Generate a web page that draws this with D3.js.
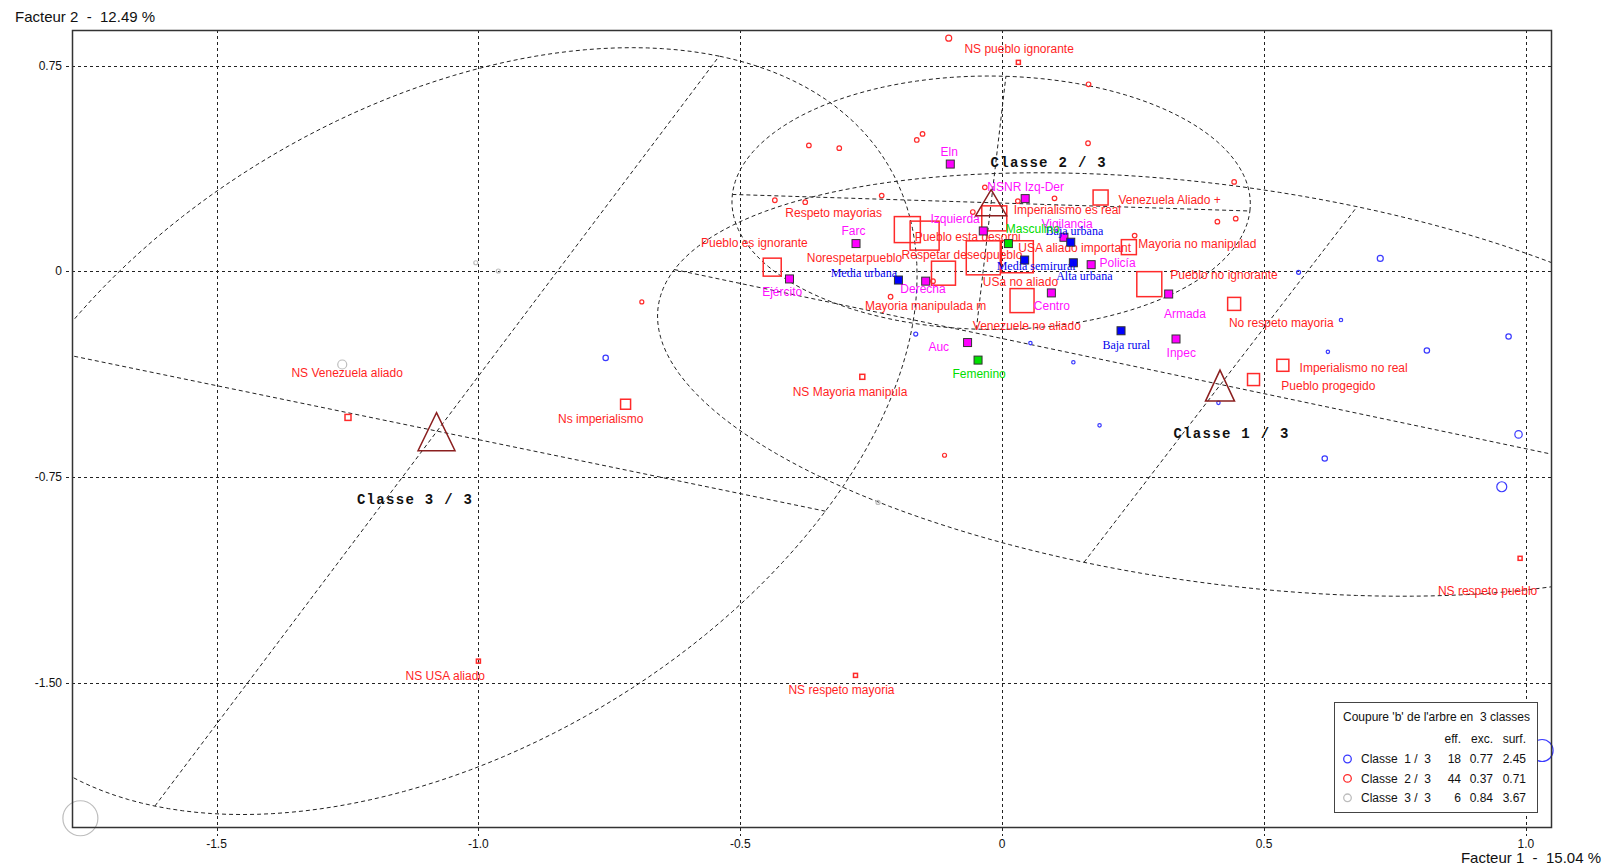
<!DOCTYPE html>
<html><head><meta charset="utf-8">
<script src="https://cdn.jsdelivr.net/npm/d3@7"></script>
<style>
body{margin:0;background:#fff}
text{white-space:pre}
</style>
</head><body><svg id="c" width="1609" height="867"></svg>
<script>
// ---------------- DATA (data units) ----------------
const xTicks = [-1.5, -1.0, -0.5, 0, 0.5, 1.0];
const xTickLabels = ["-1.5", "-1.0", "-0.5", "0", "0.5", "1.0"];
const yTicks = [0.75, 0, -0.75, -1.5];
const yTickLabels = ["0.75", "0", "-0.75", "-1.50"];
const xAxisTitle = "Facteur 1  -  15.04 %";
const yAxisTitle = "Facteur 2  -  12.49 %";

const classNames = ["Classe  1 /  3", "Classe  2 /  3", "Classe  3 /  3"];
const classMapNames = ["Classe 1 / 3", "Classe 2 / 3", "Classe 3 / 3"];
const classEff = ["18", "44", "6"];
const classExc = ["0.77", "0.37", "0.84"];
const classSurf = ["2.45", "0.71", "3.67"];
const legendTitle = "Coupure 'b' de l'arbre en  3 classes";
const legendHeads = ["eff.", "exc.", "surf."];

// class centres (x, y)
const classCenters = [[0.416, -0.417], [-0.021, 0.250], [-1.080, -0.585]];
// class ellipses: centre x, centre y, semi-axis 1, semi-axis 2, angle of axis 1 (deg)
const classEllipses = [
  [0.417, -0.413, 1.124, 0.699, -21.9],
  [-0.021, 0.250, 0.495, 0.462, -3.5],
  [-1.079, -0.583, 1.470, 0.797, 68.5]
];
const classLabelPos = [[0.327, -0.594], [-0.022, 0.396], [-1.232, -0.834]];

// individuals: x, y, weight
const class1Indiv = [
  [-0.757, -0.316, 5.4], [-0.165, -0.229, 4], [0.054, -0.262, 3.4], [0.136, -0.332, 3.4],
  [0.186, -0.562, 3.4], [0.413, -0.480, 3.4], [0.566, -0.004, 4], [0.722, 0.047, 6],
  [0.647, -0.178, 3.4], [0.622, -0.294, 3.4], [0.811, -0.289, 5.4], [0.967, -0.238, 5.4],
  [0.986, -0.595, 7.4], [0.616, -0.683, 5.4], [0.954, -0.786, 10], [1.031, -1.748, 22]
];
const class2Indiv = [
  [-0.102, 0.850, 6], [0.165, 0.682, 4.6], [-0.369, 0.459, 4.6], [-0.311, 0.449, 4.6],
  [-0.163, 0.479, 4.6], [-0.152, 0.501, 4.6], [0.164, 0.467, 4.6], [-0.434, 0.259, 4.6],
  [-0.376, 0.252, 4.6], [-0.230, 0.276, 4.6], [-0.056, 0.216, 4.6], [-0.033, 0.306, 4.6],
  [0.030, 0.256, 4.6], [0.100, 0.266, 4.6], [0.443, 0.326, 4.6], [0.411, 0.181, 4.6],
  [0.446, 0.192, 4.6], [0.253, 0.130, 4.6], [-0.688, -0.112, 4], [-0.213, -0.093, 4.6],
  [-0.132, -0.036, 4.6], [-0.110, -0.671, 4]
];
const class3Indiv = [
  [-1.260, -0.340, 9], [-1.005, 0.031, 4], [-0.962, 0.001, 4], [-0.237, -0.843, 4], [-1.760, -1.995, 35]
];

// active modalities (red squares): x, y, mass
const activeModalities = [
  [0.031, 0.762, 4], [-0.439, 0.015, 18], [-0.181, 0.152, 26], [-0.148, 0.130, 29],
  [-0.112, -0.007, 24], [-0.015, 0.193, 25], [0.188, 0.269, 15], [0.242, 0.088, 15],
  [-0.036, 0.049, 34], [0.029, 0.053, 32], [0.281, -0.047, 25], [0.038, -0.107, 24],
  [0.443, -0.119, 13], [0.536, -0.343, 12], [0.480, -0.395, 12], [-1.249, -0.533, 6],
  [-0.719, -0.485, 10], [-0.267, -0.385, 5], [-1.000, -1.422, 4], [-0.280, -1.474, 4],
  [0.989, -1.047, 4]
];
// their labels: text, x, y (start of text)
const activeLabels = [
  ["NS pueblo ignorante", -0.072, 0.811], ["Respeto mayorias", -0.414, 0.212],
  ["Pueblo es ignorante", -0.575, 0.103], ["Norespetarpueblo", -0.373, 0.050],
  ["Pueblo esta desorni", -0.167, 0.124], ["Respetar deseopueblo", -0.192, 0.061],
  ["Imperialismo es real", 0.022, 0.224], ["Venezuela Aliado +", 0.222, 0.260],
  ["USA aliado important", 0.031, 0.084], ["Mayoria no manipulad", 0.260, 0.100],
  ["USa no aliado", -0.037, -0.040], ["Pueblo no ignorante", 0.321, -0.013],
  ["Mayoria manipulada m", -0.262, -0.125], ["Venezuele no aliado", -0.056, -0.200],
  ["No respeto mayoria", 0.433, -0.190], ["Imperialismo no real", 0.568, -0.354],
  ["Pueblo progegido", 0.533, -0.418], ["NS Mayoria manipula", -0.400, -0.439],
  ["NS Venezuela aliado", -1.357, -0.370], ["Ns imperialismo", -0.848, -0.539],
  ["NS USA aliado", -1.139, -1.475], ["NS respeto mayoria", -0.408, -1.528],
  ["NS respeto pueblo", 0.832, -1.165]
];

// illustrative modalities: name, x, y, label x, label y, anchor
const groupMagenta = [
  ["Eln", -0.099, 0.391, -0.101, 0.434, "middle"],
  ["Farc", -0.279, 0.101, -0.284, 0.147, "middle"],
  ["Ejército", -0.406, -0.028, -0.420, -0.077, "middle"],
  ["Derecha", -0.146, -0.036, -0.151, -0.066, "middle"],
  ["Izquierda", -0.036, 0.147, -0.137, 0.190, "start"],
  ["NSNR Izq-Der", 0.044, 0.265, 0.045, 0.309, "middle"],
  ["Vigilancia", 0.118, 0.124, 0.124, 0.171, "middle"],
  ["Policía", 0.170, 0.024, 0.186, 0.029, "start"],
  ["Centro", 0.094, -0.079, 0.095, -0.127, "middle"],
  ["Armada", 0.318, -0.083, 0.349, -0.156, "middle"],
  ["Auc", -0.066, -0.260, -0.121, -0.275, "middle"],
  ["Inpec", 0.332, -0.247, 0.342, -0.297, "middle"]
];
const groupBlue = [
  ["Media urbana", -0.198, -0.032, -0.264, -0.007, "middle"],
  ["Baja urbana", 0.131, 0.106, 0.138, 0.148, "middle"],
  ["Media semirural", 0.043, 0.041, 0.065, 0.019, "middle"],
  ["Alta urbana", 0.136, 0.031, 0.157, -0.017, "middle"],
  ["Baja rural", 0.227, -0.217, 0.237, -0.268, "middle"]
];
const groupGreen = [
  ["Masculino", 0.012, 0.101, 0.007, 0.153, "start"],
  ["Femenino", -0.046, -0.324, -0.095, -0.375, "start"]
];

// ---------------- DRAWING ----------------
const W = 1609, H = 867;
const frame = {l: 72, r: 1551, t: 30, b: 827};
const x = d3.scaleLinear().domain([-1.776, 1.048]).range([frame.l, frame.r]);
const y = d3.scaleLinear().domain([-2.027, 0.880]).range([frame.b, frame.t]);
const rScale = d3.scaleLinear().domain([0, 35]).range([0, 17.5]);
const sideScale = d3.scaleLinear().domain([0, 34]).range([0, 34]);

const classColors = ["#3a3aff", "#ff2a2a", "#bdbdbd"];
const triColor = "#8b1f1f";
const triSize = [[29, 31], [31, 26], [37, 38]];
const sans = "'Liberation Sans', Arial, sans-serif";

const svg = d3.select("#c");
svg.append("rect").attr("width", W).attr("height", H).attr("fill", "#fff");

svg.append("defs").append("clipPath").attr("id", "clip")
  .append("rect").attr("x", frame.l).attr("y", frame.t)
  .attr("width", frame.r - frame.l).attr("height", frame.b - frame.t);

// grid
const grid = svg.append("g").attr("stroke", "#222").attr("stroke-width", 1).attr("stroke-dasharray", "3,3");
grid.selectAll("line.v").data(xTicks).join("line")
  .attr("x1", d => Math.round(x(d)) + 0.5).attr("x2", d => Math.round(x(d)) + 0.5)
  .attr("y1", frame.t).attr("y2", frame.b + 9);
grid.selectAll("line.h").data(yTicks).join("line")
  .attr("y1", d => Math.round(y(d)) + 0.5).attr("y2", d => Math.round(y(d)) + 0.5)
  .attr("x1", frame.l - 6).attr("x2", frame.r);

// tick labels
svg.append("g").selectAll("text").data(xTicks).join("text")
  .attr("x", d => x(d)).attr("y", frame.b + 21).attr("text-anchor", "middle")
  .attr("font-family", sans).attr("font-size", 12).attr("fill", "#111")
  .text((d, i) => xTickLabels[i]);
svg.append("g").selectAll("text").data(yTicks).join("text")
  .attr("x", frame.l - 10).attr("y", d => y(d)).attr("dy", "0.35em").attr("text-anchor", "end")
  .attr("font-family", sans).attr("font-size", 12).attr("fill", "#111")
  .text((d, i) => yTickLabels[i]);

svg.append("text").attr("x", 15).attr("y", 22).attr("font-family", sans).attr("font-size", 15)
  .attr("fill", "#111").text(yAxisTitle);
svg.append("text").attr("x", 1601).attr("y", 863).attr("text-anchor", "end").attr("font-family", sans)
  .attr("font-size", 15).attr("fill", "#111").text(xAxisTitle);

// ellipses and axes
const inner = svg.append("g").attr("clip-path", "url(#clip)");
function ellipsePoints(e) {
  const [cx, cy, a, b, ang] = e, t = ang * Math.PI / 180;
  const ux = Math.cos(t), uy = Math.sin(t), vx = -uy, vy = ux;
  return d3.range(0, 360, 2).map(deg => {
    const p = deg * Math.PI / 180;
    return [cx + a * Math.cos(p) * ux + b * Math.sin(p) * vx, cy + a * Math.cos(p) * uy + b * Math.sin(p) * vy];
  });
}
function axisSegments(e) {
  const [cx, cy, a, b, ang] = e, t = ang * Math.PI / 180;
  const ux = Math.cos(t), uy = Math.sin(t), vx = -uy, vy = ux;
  return [[[cx - a * ux, cy - a * uy], [cx + a * ux, cy + a * uy]],
          [[cx - b * vx, cy - b * vy], [cx + b * vx, cy + b * vy]]];
}
const closedLine = d3.line().x(d => x(d[0])).y(d => y(d[1])).curve(d3.curveLinearClosed);
const openLine = d3.line().x(d => x(d[0])).y(d => y(d[1]));
const eg = inner.append("g").attr("fill", "none").attr("stroke", "#222").attr("stroke-width", 1).attr("stroke-dasharray", "4,3");
classEllipses.forEach(e => {
  eg.append("path").attr("d", closedLine(ellipsePoints(e)));
  axisSegments(e).forEach(s => eg.append("path").attr("d", openLine(s)));
});

// individuals
const indiv = svg.append("g").attr("fill", "none").attr("stroke-width", 1.2);
[class1Indiv, class2Indiv, class3Indiv].forEach((arr, ci) => {
  indiv.selectAll(null).data(arr).join("circle")
    .attr("cx", d => x(d[0])).attr("cy", d => y(d[1])).attr("r", d => rScale(d[2]))
    .attr("stroke", classColors[ci]);
});

// active modalities
svg.append("g").selectAll("rect").data(activeModalities).join("rect")
  .attr("x", d => x(d[0]) - sideScale(d[2]) / 2).attr("y", d => y(d[1]) - sideScale(d[2]) / 2)
  .attr("width", d => sideScale(d[2])).attr("height", d => sideScale(d[2]))
  .attr("fill", "none").attr("stroke", "#ff2a2a").attr("stroke-width", 1.5);

svg.append("g").selectAll("text").data(activeLabels).join("text")
  .attr("x", d => x(d[1])).attr("y", d => y(d[2])).attr("dominant-baseline", "central")
  .attr("font-family", sans).attr("font-size", 12).attr("fill", "#ff1f1f").text(d => d[0]);

// illustrative groups
function drawGroup(arr, fill, textColor, font) {
  const g = svg.append("g");
  g.selectAll("rect").data(arr).join("rect")
    .attr("x", d => x(d[1]) - 4).attr("y", d => y(d[2]) - 4).attr("width", 8).attr("height", 8)
    .attr("fill", fill).attr("stroke", "#333").attr("stroke-width", 1);
  g.selectAll("text").data(arr).join("text")
    .attr("x", d => x(d[3])).attr("y", d => y(d[4])).attr("dominant-baseline", "central")
    .attr("text-anchor", d => d[5]).attr("font-family", font).attr("font-size", 12)
    .attr("fill", textColor).text(d => d[0]);
}
drawGroup(groupMagenta, "#ff00ff", "#ff10ff", sans);
drawGroup(groupBlue, "#0000ff", "#0000ee", "'Liberation Serif', 'Times New Roman', serif");
drawGroup(groupGreen, "#00e000", "#00dd00", sans);

// class centres (triangles) and labels
svg.append("g").selectAll("path").data(classCenters).join("path")
  .attr("d", (d, i) => {
    const cx = x(d[0]), cy = y(d[1]), w = triSize[i][0], h = triSize[i][1];
    return `M${cx},${cy - h / 2}L${cx + w / 2},${cy + h / 2}L${cx - w / 2},${cy + h / 2}Z`;
  })
  .attr("fill", "none").attr("stroke", triColor).attr("stroke-width", 1.5);
svg.append("g").selectAll("text").data(classLabelPos).join("text")
  .attr("x", d => x(d[0])).attr("y", d => y(d[1])).attr("dominant-baseline", "central")
  .attr("font-family", "'Liberation Mono', 'Courier New', monospace").attr("font-weight", "bold")
  .attr("font-size", 14).attr("letter-spacing", 1.3).attr("fill", "#111")
  .text((d, i) => classMapNames[i]);

// frame
svg.append("rect").attr("x", frame.l + 0.5).attr("y", frame.t + 0.5)
  .attr("width", frame.r - frame.l).attr("height", frame.b - frame.t)
  .attr("fill", "none").attr("stroke", "#333").attr("stroke-width", 1.5);

// legend
const lg = svg.append("g").attr("font-family", sans).attr("font-size", 12).attr("fill", "#111");
lg.append("rect").attr("x", 1334.5).attr("y", 702.5).attr("width", 203).attr("height", 110)
  .attr("fill", "#fff").attr("stroke", "#444").attr("stroke-width", 1);
lg.append("text").attr("x", 1343).attr("y", 721).text(legendTitle);
const colRight = [1461, 1493, 1526];
legendHeads.forEach((h, i) => lg.append("text").attr("x", colRight[i]).attr("y", 743).attr("text-anchor", "end").text(h));
classNames.forEach((c, i) => {
  const yy = 759 + i * 19.4;
  lg.append("circle").attr("cx", 1347.5).attr("cy", yy).attr("r", 3.8).attr("fill", "none")
    .attr("stroke", classColors[i]).attr("stroke-width", 1.3);
  lg.append("text").attr("x", 1361).attr("y", yy).attr("dy", "0.35em").text(c);
  [classEff[i], classExc[i], classSurf[i]].forEach((v, j) =>
    lg.append("text").attr("x", colRight[j]).attr("y", yy).attr("dy", "0.35em").attr("text-anchor", "end").text(v));
});
</script>
</body></html>
